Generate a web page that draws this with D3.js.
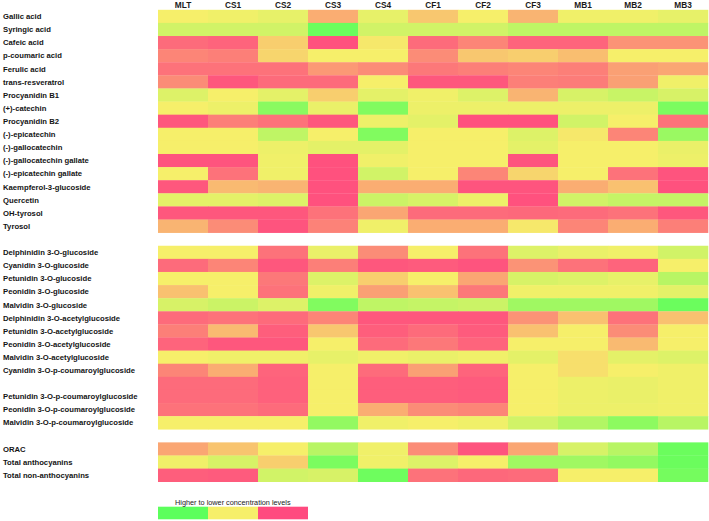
<!DOCTYPE html>
<html>
<head>
<meta charset="utf-8">
<script src="https://cdn.jsdelivr.net/npm/d3@7"></script>
<style>
  html, body { margin: 0; padding: 0; background: #ffffff; }
  svg { display: block; }
</style>
</head>
<body>
<div id="chart"></div>
<script>
// ---------------- DATA ----------------
const columns = ["MLT", "CS1", "CS2", "CS3", "CS4", "CF1", "CF2", "CF3", "MB1", "MB2", "MB3"];

// relative level: 0 = lower (green), 50 = middle (yellow), 100 = higher (pink)
const phenolicLabels = [
  "Gallic acid", "Syringic acid", "Cafeic acid", "p-coumaric acid", "Ferulic acid",
  "trans-resveratrol", "Procyanidin B1", "(+)-catechin", "Procyanidin B2", "(-)-epicatechin",
  "(-)-gallocatechin", "(-)-gallocatechin gallate", "(-)-epicatechin gallate",
  "Kaempferol-3-glucoside", "Quercetin", "OH-tyrosol", "Tyrosol"
];
const phenolicValues = [
  [50, 48, 45, 70, 45, 62, 50, 68, 48, 48, 45],
  [38, 38, 38, 5, 38, 38, 38, 32, 32, 32, 32],
  [90, 92, 60, 98, 52, 90, 82, 92, 92, 78, 78],
  [82, 84, 58, 50, 50, 80, 62, 60, 65, 50, 50],
  [88, 88, 88, 76, 80, 86, 84, 82, 84, 74, 72],
  [80, 96, 90, 90, 50, 96, 96, 84, 85, 74, 48],
  [42, 50, 44, 60, 44, 48, 42, 68, 40, 35, 40],
  [50, 47, 15, 46, 12, 47, 47, 47, 47, 47, 10],
  [96, 84, 88, 96, 47, 44, 98, 98, 38, 50, 88],
  [50, 50, 32, 50, 12, 50, 50, 42, 52, 82, 20],
  [50, 50, 47, 44, 44, 50, 50, 44, 50, 50, 46],
  [97, 97, 48, 98, 48, 50, 50, 97, 50, 50, 47],
  [50, 88, 48, 98, 38, 50, 82, 58, 50, 88, 97],
  [96, 66, 68, 98, 70, 70, 97, 97, 70, 64, 98],
  [44, 44, 42, 98, 36, 40, 47, 98, 38, 34, 34],
  [96, 96, 96, 88, 72, 90, 90, 91, 90, 88, 96],
  [68, 80, 97, 83, 48, 70, 70, 52, 82, 70, 84]
];

const anthocyaninLabels = [
  "Delphinidin 3-O-glucoside", "Cyanidin 3-O-glucoside", "Petunidin 3-O-glucoside",
  "Peonidin 3-O-glucoside", "Malvidin 3-O-glucoside", "Delphinidin 3-O-acetylglucoside",
  "Petunidin 3-O-acetylglucoside", "Peonidin 3-O-acetylglucoside", "Malvidin 3-O-acetylglucoside",
  "Cyanidin 3-O-p-coumaroylglucoside", "", "Petunidin 3-O-p-coumaroylglucoside",
  "Peonidin 3-O-p-coumaroylglucoside", "Malvidin 3-O-p-coumaroylglucoside"
];
const anthocyaninValues = [
  [50, 50, 88, 46, 80, 50, 88, 42, 46, 48, 38],
  [90, 82, 96, 84, 96, 95, 97, 78, 88, 92, 50],
  [50, 50, 86, 42, 60, 50, 72, 40, 42, 45, 30],
  [64, 50, 88, 48, 74, 64, 86, 48, 48, 48, 44],
  [40, 36, 42, 12, 32, 34, 36, 22, 22, 22, 5],
  [90, 88, 90, 82, 96, 96, 96, 78, 64, 88, 64],
  [84, 66, 94, 62, 94, 90, 95, 64, 50, 80, 50],
  [92, 96, 96, 50, 90, 86, 92, 50, 50, 66, 50],
  [50, 48, 48, 45, 48, 46, 48, 44, 55, 44, 42],
  [82, 70, 92, 50, 90, 74, 92, 50, 55, 50, 48],
  [90, 90, 93, 50, 94, 94, 95, 50, 47, 46, 48],
  [90, 90, 93, 50, 94, 94, 95, 50, 47, 46, 48],
  [88, 88, 90, 50, 70, 80, 82, 50, 47, 47, 48],
  [50, 50, 50, 18, 48, 50, 48, 38, 28, 16, 30]
];

const summaryLabels = ["ORAC", "Total anthocyanins", "Total non-anthocyanins"];
const summaryValues = [
  [72, 63, 50, 30, 48, 80, 97, 72, 40, 30, 5],
  [48, 40, 60, 10, 48, 42, 50, 22, 22, 18, 5],
  [94, 95, 38, 40, 6, 88, 91, 90, 50, 50, 8]
];

const legendTitle = "Higher to lower concentration levels";
const legendLevels = [0, 50, 100];

// ---------------- BUILD ----------------
const W = 709, H = 521;
const svg = d3.select("#chart").append("svg").attr("width", W).attr("height", H);

const groups = [
  { labels: phenolicLabels, values: phenolicValues },
  { labels: anthocyaninLabels, values: anthocyaninValues },
  { labels: summaryLabels, values: summaryValues }
];
const rows = [];
groups.forEach((g, gi) => {
  if (gi > 0) rows.push({ key: "gap" + gi, label: null, values: null });
  g.labels.forEach((lab, i) => rows.push({ key: "r" + gi + "_" + i, label: lab, values: g.values[i] }));
});

const x = d3.scaleBand().domain(columns).range([158, 708]).padding(0);
const y = d3.scaleBand().domain(rows.map(r => r.key)).range([9.8, 481.7]).padding(0);
const color = d3.scaleLinear().domain([0, 50, 100])
  .range(["#5cff5c", "#f6ef6a", "#ff4a7f"]).interpolate(d3.interpolateRgb);

const font = "'Liberation Sans', Arial, sans-serif";

// cells
const dataRows = rows.filter(r => r.values);
const rowG = svg.append("g").selectAll("g").data(dataRows).join("g")
  .attr("transform", d => `translate(0,${y(d.key)})`);
rowG.selectAll("rect").data(d => d.values.map((v, i) => ({ col: columns[i], v })))
  .join("rect")
  .attr("x", d => x(d.col))
  .attr("y", 0)
  .attr("width", x.bandwidth() + 0.3)
  .attr("height", y.bandwidth() + 0.3)
  .attr("fill", d => color(d.v));

// column headers
const topAxis = svg.append("g").attr("transform", "translate(0,7.8)")
  .call(d3.axisTop(x).tickSize(0).tickPadding(0));
topAxis.select(".domain").remove();
topAxis.selectAll("text")
  .attr("font-family", font).attr("font-weight", "bold").attr("font-size", "8.3px")
  .attr("fill", "#1a1a1a");

// row labels
svg.append("g").selectAll("text").data(dataRows.filter(r => r.label)).join("text")
  .attr("x", 3)
  .attr("y", d => y(d.key) + y.bandwidth() / 2)
  .attr("dy", "0.36em")
  .attr("font-family", font).attr("font-weight", "bold").attr("font-size", "7.7px")
  .attr("fill", "#141414")
  .text(d => d.label);

// legend
const lx = d3.scaleBand().domain(legendLevels).range([158, 308]);
svg.append("g").selectAll("rect").data(legendLevels).join("rect")
  .attr("x", d => lx(d)).attr("y", 506.7)
  .attr("width", lx.bandwidth()).attr("height", 12.6)
  .attr("fill", d => color(d));
svg.append("text")
  .attr("x", 175).attr("y", 505.3)
  .attr("font-family", font).attr("font-size", "7.3px").attr("fill", "#222")
  .text(legendTitle);
</script>
</body>
</html>
